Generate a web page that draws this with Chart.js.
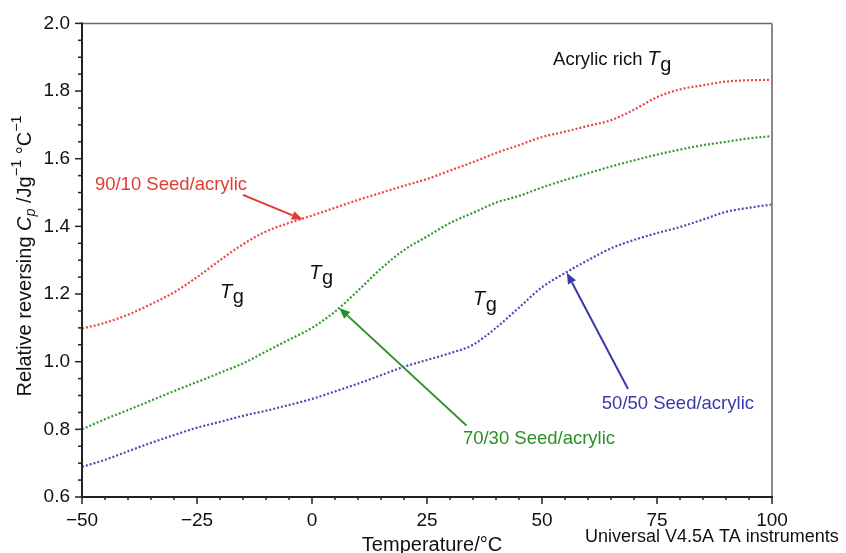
<!DOCTYPE html>
<html>
<head>
<meta charset="utf-8">
<script src="https://cdn.jsdelivr.net/npm/chart.js@4/dist/chart.umd.min.js"></script>
<style>
html,body{margin:0;padding:0;background:#fff;}
canvas{display:block;}
</style>
</head>
<body>
<canvas id="c" width="846" height="553"></canvas>
<script>
// ---- data ----
const temps = [-50,-45,-40,-35,-30,-25,-20,-15,-10,-5,0,5,10,15,20,25,30,35,40,45,50,55,60,65,70,75,80,85,90,95,100];
const red9010 = [1.098,1.115,1.139,1.17,1.205,1.25,1.300,1.347,1.385,1.410,1.432,1.455,1.478,1.499,1.52,1.54,1.565,1.59,1.617,1.64,1.664,1.68,1.697,1.714,1.745,1.782,1.805,1.817,1.828,1.832,1.833];
const green7030 = [0.80,0.83,0.857,0.885,0.913,0.94,0.967,0.995,1.03,1.065,1.10,1.148,1.21,1.275,1.33,1.37,1.41,1.44,1.47,1.49,1.515,1.537,1.557,1.577,1.595,1.612,1.627,1.64,1.65,1.66,1.667];
const blue5050 = [0.689,0.71,0.735,0.76,0.783,0.805,0.822,0.84,0.855,0.872,0.89,0.912,0.935,0.96,0.985,1.005,1.025,1.05,1.10,1.16,1.22,1.262,1.30,1.335,1.36,1.38,1.398,1.42,1.443,1.455,1.465];
const xTicks = [-50,-25,0,25,50,75,100];
const yTicks = [0.6,0.8,1.0,1.2,1.4,1.6,1.8,2.0];
const seriesNames = ['90/10 Seed/acrylic','70/30 Seed/acrylic','50/50 Seed/acrylic'];

// annotation anchors in data units
const labelPos = [[-47.2,1.523],[32.8,0.773],[63.0,0.875]];
const arrowFrom = [[-15.0,1.493],[33.6,0.811],[68.7,0.919]];
const arrowTo = [[-2.0,1.420],[5.9,1.159],[55.4,1.263]];
const tgPos = [[-20.0,1.205],[-0.6,1.262],[35.0,1.183]];
const acrylicRichPos = [52.4,1.892];

const FONT = '"Liberation Sans", Arial, Helvetica, sans-serif';
const lineColors = ['#ee4444','#2f9a2f','#4a4ab8'];
const textColors = ['#e23b32','#2a8f24','#3a3aa8'];

function pts(vals){ return temps.map((t,i)=>({x:t,y:vals[i]})); }

function drawTg(ctx, x, y, size){
  ctx.save();
  ctx.textBaseline = 'middle';
  ctx.textAlign = 'left';
  ctx.fillStyle = '#111';
  ctx.font = 'italic ' + size + 'px ' + FONT;
  ctx.fillText('T', x, y);
  const w = ctx.measureText('T').width;
  ctx.font = size + 'px ' + FONT;
  ctx.fillText('g', x + w + 0.5, y + size*0.28);
  ctx.restore();
}

function arrow(ctx, x1, y1, x2, y2, color){
  ctx.save();
  ctx.strokeStyle = color; ctx.fillStyle = color; ctx.lineWidth = 2;
  const a = Math.atan2(y2-y1, x2-x1);
  const L = 11, W = 4.5;
  const bx = x2 - L*Math.cos(a), by = y2 - L*Math.sin(a);
  ctx.beginPath(); ctx.moveTo(x1,y1); ctx.lineTo(bx,by); ctx.stroke();
  ctx.beginPath();
  ctx.moveTo(x2,y2);
  ctx.lineTo(bx + W*Math.sin(a), by - W*Math.cos(a));
  ctx.lineTo(bx - W*Math.sin(a), by + W*Math.cos(a));
  ctx.closePath(); ctx.fill();
  ctx.restore();
}

const deco = {
  id:'deco',
  afterDraw(chart){
    const ctx = chart.ctx, a = chart.chartArea, xs = chart.scales.x, ys = chart.scales.y;
    ctx.save();
    // frame
    ctx.lineCap = 'butt';
    ctx.strokeStyle = '#6a6a6a'; ctx.lineWidth = 1.5;
    ctx.beginPath(); ctx.moveTo(a.left, a.top); ctx.lineTo(a.right, a.top); ctx.stroke();
    ctx.strokeStyle = '#8a8a8a'; ctx.lineWidth = 2;
    ctx.beginPath(); ctx.moveTo(a.right, a.top); ctx.lineTo(a.right, a.bottom); ctx.stroke();
    ctx.strokeStyle = '#222'; ctx.lineWidth = 2;
    ctx.beginPath(); ctx.moveTo(a.left, a.top-1); ctx.lineTo(a.left, a.bottom); ctx.lineTo(a.right+1, a.bottom); ctx.stroke();
    // ticks
    ctx.lineWidth = 1.5; ctx.strokeStyle = '#222';
    for(let v=-50; v<=100; v+=5){
      const px = xs.getPixelForValue(v);
      const len = (v % 25 === 0) ? 7 : 3;
      ctx.beginPath(); ctx.moveTo(px, a.bottom); ctx.lineTo(px, a.bottom+len); ctx.stroke();
    }
    for(let k=0; k<=28; k++){
      const v = 0.6 + k*0.05;
      const py = ys.getPixelForValue(v);
      const len = (k % 4 === 0) ? 7 : 4;
      ctx.beginPath(); ctx.moveTo(a.left-len, py); ctx.lineTo(a.left, py); ctx.stroke();
    }
    // series labels + arrows
    ctx.font = '18.5px ' + FONT; ctx.textBaseline = 'middle'; ctx.textAlign = 'left';
    for(let i=0;i<3;i++){
      ctx.fillStyle = textColors[i];
      ctx.fillText(seriesNames[i], xs.getPixelForValue(labelPos[i][0]), ys.getPixelForValue(labelPos[i][1]));
      arrow(ctx, xs.getPixelForValue(arrowFrom[i][0]), ys.getPixelForValue(arrowFrom[i][1]),
                 xs.getPixelForValue(arrowTo[i][0]), ys.getPixelForValue(arrowTo[i][1]), textColors[i]);
    }
    // Tg labels
    tgPos.forEach(p => drawTg(ctx, xs.getPixelForValue(p[0]), ys.getPixelForValue(p[1]), 20));
    // Acrylic rich Tg
    ctx.font = '18.5px ' + FONT; ctx.fillStyle = '#111';
    const arx = xs.getPixelForValue(acrylicRichPos[0]), ary = ys.getPixelForValue(acrylicRichPos[1]);
    ctx.fillText('Acrylic rich ', arx, ary);
    drawTg(ctx, arx + ctx.measureText('Acrylic rich ').width, ary, 20);
    // x title & footer
    ctx.fillStyle = '#111'; ctx.textAlign = 'center';
    ctx.font = '20px ' + FONT;
    ctx.fillText('Temperature/\u00B0C', 432, 545);
    ctx.font = '18px ' + FONT; ctx.textAlign = 'left';
    ctx.fillText('Universal V4.5A TA instruments', 585, 537);
    // y title (rich text, rotated)
    ctx.translate(25, 256);
    ctx.rotate(-Math.PI/2);
    const S = 20;
    const segs = [
      {t:'Relative reversing ', f:S+'px '+FONT, dy:0},
      {t:'C', f:'italic '+S+'px '+FONT, dy:0},
      {t:'p', f:'italic '+(S*0.72)+'px '+FONT, dy:S*0.3},
      {t:' /Jg', f:S+'px '+FONT, dy:0},
      {t:'\u22121', f:(S*0.72)+'px '+FONT, dy:-S*0.38},
      {t:' \u00B0C', f:S+'px '+FONT, dy:0},
      {t:'\u22121', f:(S*0.72)+'px '+FONT, dy:-S*0.38}
    ];
    let tot = 0;
    segs.forEach(s=>{ ctx.font = s.f; s.w = ctx.measureText(s.t).width; tot += s.w; });
    let cx = -tot/2;
    ctx.textAlign = 'left'; ctx.textBaseline = 'middle';
    segs.forEach(s=>{ ctx.font = s.f; ctx.fillText(s.t, cx, s.dy); cx += s.w; });
    ctx.restore();
  }
};

const mk = (vals, i) => ({
  data: pts(vals), borderColor: lineColors[i], borderWidth: 2.2, borderDash:[2,2],
  pointRadius: 0, fill:false, cubicInterpolationMode:'monotone'
});

new Chart(document.getElementById('c'), {
  type:'line',
  data:{ datasets:[ mk(red9010,0), mk(green7030,1), mk(blue5050,2) ] },
  options:{
    responsive:false, animation:false, devicePixelRatio:1,
    layout:{padding:{top:20,right:74,left:0,bottom:0}},
    plugins:{legend:{display:false}, tooltip:{enabled:false}},
    scales:{
      x:{
        type:'linear', min:-50, max:100,
        afterFit(s){ s.height = 56; },
        afterBuildTicks(s){ s.ticks = xTicks.map(v=>({value:v})); },
        grid:{display:false, drawTicks:false}, border:{display:false},
        ticks:{padding:12, color:'#111', maxRotation:0, font:{size:19, family:FONT},
          callback:v => v < 0 ? '\u2212' + Math.abs(v) : String(v)}
      },
      y:{
        type:'linear', min:0.6, max:2.0,
        afterFit(s){ s.width = 82; },
        afterBuildTicks(s){ s.ticks = yTicks.map(v=>({value:v})); },
        grid:{display:false, drawTicks:false}, border:{display:false},
        ticks:{padding:12, color:'#111', font:{size:19, family:FONT},
          callback:v => Number(v).toFixed(1)}
      }
    }
  },
  plugins:[deco]
});
</script>
</body>
</html>
